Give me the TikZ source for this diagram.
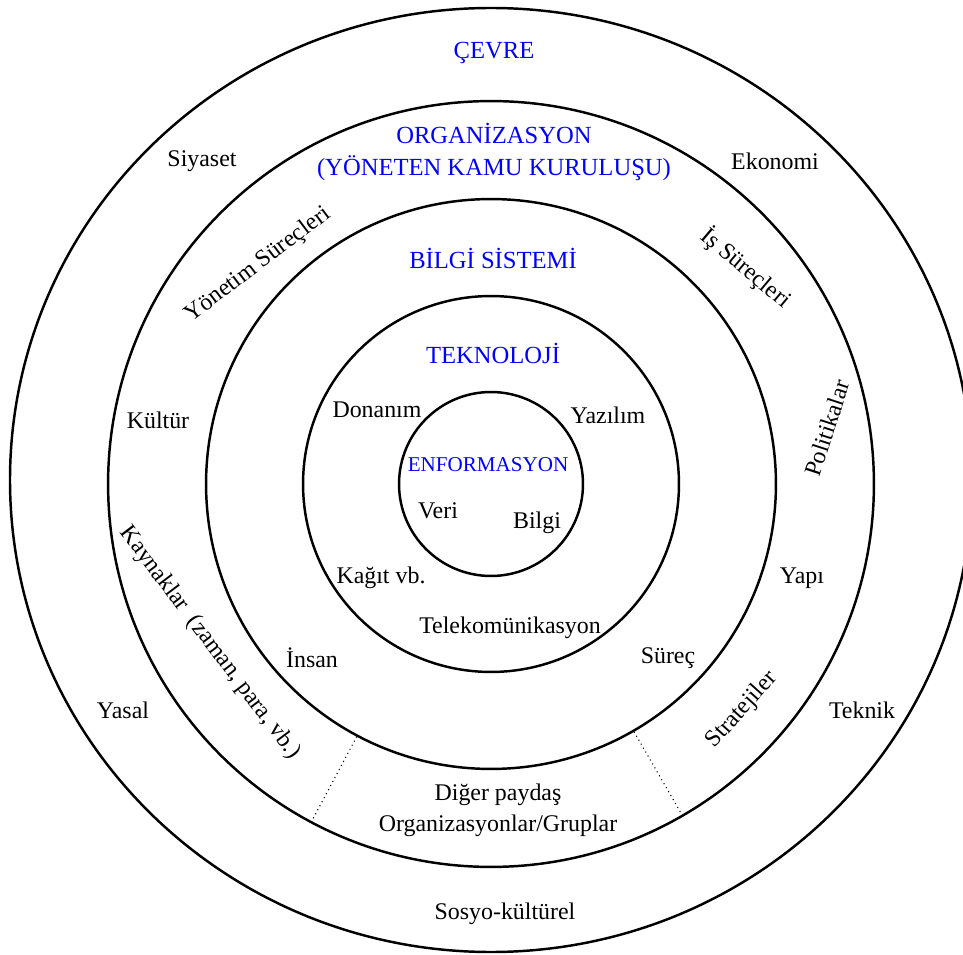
\documentclass[tikz,border=0pt]{standalone}
\usepackage{fontspec}
\setmainfont{Liberation Serif}
\tikzset{
	ring/.style = {draw, circle, line width = 1.4pt, inner sep = 0pt},
	lbl/.style = {font = \fontsize{13.6}{16}\selectfont, inner sep = 1pt},
	ttl/.style = {text = blue, font = \fontsize{14}{18}\selectfont, inner sep = 1pt, align = center}
}
\begin{document}
\begin{tikzpicture}[x = 0.02cm, y = -0.02cm]
		\useasboundingbox (0,0) rectangle (963,955);
		\clip (0,0) rectangle (963,955);
		% rings
		\draw [line width = 1.4pt] (491,480) ellipse [x radius = 481, y radius = 472];
		\node [ring, minimum size = 15.32cm] (org) at (491,484) {};
		\node [ring, minimum size = 11.4cm] (bilsis) at (491,484) {};
		\node [ring, minimum size = 7.52cm] (tekno) at (491,484) {};
		\node [ring, minimum size = 3.68cm] (enform) at (491,484) {};
		\draw [dotted, line width = 0.6pt] (bilsis.-118) -- (org.-118);
		\draw [dotted, line width = 0.6pt] (bilsis.-60) -- (org.-60);
		% titles
		\node [ttl] (cevre) at (494,53) {ÇEVRE};
		\node [ttl] (orgad) at (494,152) {ORGANİZASYON\\(YÖNETEN KAMU KURULUŞU)};
		\node [ttl] (bilsisad) at (493,258) {BİLGİ SİSTEMİ};
		\node [ttl] (teknoad) at (493,353) {TEKNOLOJİ};
		\node [ttl, font = \fontsize{12}{14}\selectfont] (enformad) at (488,465) {ENFORMASYON};
		% labels
		\node [lbl] (veri) at (438,511) {Veri};
		\node [lbl] (bilgi) at (537,523) {Bilgi};
		\node [lbl] (donanim) at (377,410) {Donanım};
		\node [lbl] (yazilim) at (608,415) {Yazılım};
		\node [lbl] (kagit) at (381,578) {Kağıt vb.};
		\node [lbl] (telekom) at (510,628) {Telekomünikasyon};
		\node [lbl] (insan) at (312,658) {İnsan};
		\node [lbl] (surec) at (668,658) {Süreç};
		\node [lbl] (siyaset) at (202,161) {Siyaset};
		\node [lbl] (ekonomi) at (775,161) {Ekonomi};
		\node [lbl, rotate = 37] (yonetim) at (258,265) {Yönetim Süreçleri};
		\node [lbl, rotate = -40] (issurec) at (746,268) {İş Süreçleri};
		\node [lbl] (kultur) at (158,420) {Kültür};
		\node [lbl, rotate = -53] (kaynak) at (210,643) {Kaynaklar \ (zaman, para, vb.)};
		\node [lbl, rotate = 72] (politika) at (827,428) {Politikalar};
		\node [lbl] (yapi) at (802,578) {Yapı};
		\node [lbl, rotate = 48] (strateji) at (742,710) {Stratejiler};
		\node [lbl] (teknik) at (862,710) {Teknik};
		\node [lbl] (yasal) at (123,710) {Yasal};
		\node [lbl, align = center, font = \fontsize{13.6}{17.6}\selectfont] (diger) at (498,810) {Diğer paydaş\\Organizasyonlar/Gruplar};
		\node [lbl] (sosyo) at (505,914) {Sosyo-kültürel};
	\end{tikzpicture}
\end{document}
